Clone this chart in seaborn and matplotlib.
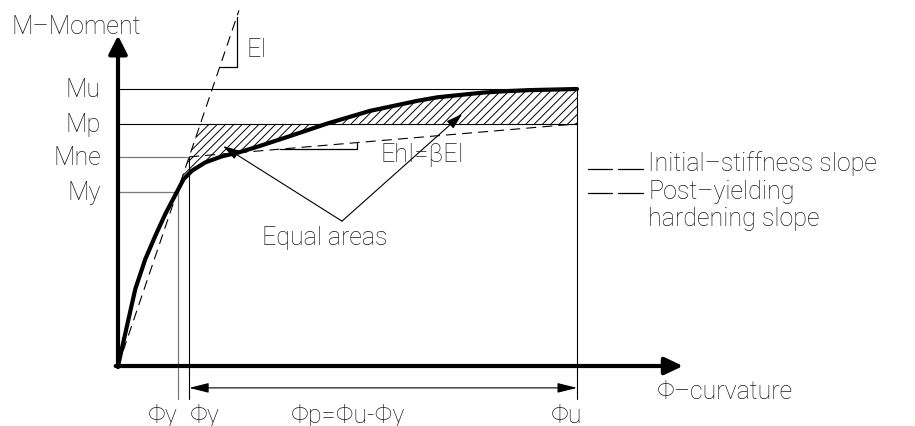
import numpy as np
import matplotlib
matplotlib.use("Agg")
import matplotlib.pyplot as plt
from matplotlib import font_manager
import seaborn as sns

# ---------------- data (schematic moment-curvature relation) ----------------
curve_phi = [0.0, 0.196, 0.377, 0.595, 0.813, 1.031, 1.285, 1.431, 1.612,
             1.902, 2.266, 2.630, 3.065, 3.747, 4.553, 5.490, 6.514, 6.955,
             7.952, 8.431, 8.976, 10.0]
curve_M = [0.0, 14.5, 27.8, 38.6, 47.0, 54.9, 62.9, 67.5, 70.5, 73.5, 75.7,
           77.1, 79.3, 83.0, 87.5, 92.1, 95.7, 97.0, 98.7, 99.2, 99.6, 100.0]

moment_names = ["Mu", "Mp", "Mne", "My"]
moment_values = [100.0, 87.4, 75.5, 62.8]
phi_names = ["Φy", "Φy", "Φp=Φu-Φy", "Φu"]
phi_y1, phi_y2, phi_u = 1.31, 1.55, 10.0
Mu, Mp, Mne, My = moment_values
EI = Mne / phi_y2                    # initial stiffness slope
legend_lines = ["Initial–stiffness slope", "Post–yielding", "hardening slope"]

# ---------------- figure ----------------
sns.set_theme(style="white")
light_ok = any(f.name == "Roboto" and f.weight in (300, "light")
               for f in font_manager.fontManager.ttflist)
if light_ok:
    plt.rcParams["font.family"] = ["Roboto", "DejaVu Sans"]
    TXT = dict(fontsize=18, color="#1a1a1a", fontweight="light")
else:
    plt.rcParams["font.family"] = ["DejaVu Sans"]
    TXT = dict(fontsize=16, color="#1a1a1a")
plt.rcParams["hatch.linewidth"] = 0.7

fig = plt.figure(figsize=(9.15, 4.27), dpi=100)
ax = fig.add_axes([0, 0, 1, 1])
sx, sy = 45.9, 2.77                  # px per unit
ax.set_xlim(-118 / sx, (915 - 118) / sx)
ax.set_ylim((367 - 427) / sy, 367 / sy)
ax.axis("off")

thin = dict(color="black", lw=0.8)
grey = dict(color="#7a7a7a", lw=0.9)

# hatched equal areas
cphi = np.array(curve_phi)
cM = np.array(curve_M)
Mg = np.linspace(50, Mp, 300)
left = Mg / EI
right = np.interp(Mg, cM, cphi)
ax.fill_betweenx(Mg, left, right, where=right >= left, facecolor="none",
                 edgecolor="black", hatch="////", linewidth=0)
pg = np.linspace(4.0, phi_u, 300)
mg = np.interp(pg, cphi, cM)
ax.fill_between(pg, Mp, mg, where=mg >= Mp, facecolor="none",
                edgecolor="black", hatch="////", linewidth=0)

# reference lines
y_bot = -11.9
sns.lineplot(x=[0, phi_u], y=[Mu, Mu], ax=ax, **thin)
sns.lineplot(x=[0, phi_u], y=[Mp, Mp], ax=ax, **thin)
sns.lineplot(x=[0, phi_y2], y=[Mne, Mne], ax=ax, **grey)
sns.lineplot(x=[0, phi_y1], y=[My, My], ax=ax, **grey)
ax.plot([phi_y1, phi_y1], [My, y_bot], **grey)
ax.plot([phi_y2, phi_y2], [Mne, y_bot], **thin)
ax.plot([phi_u, phi_u], [Mu, y_bot], **thin)

# dashed slopes
dash = (0, (9, 5.5))
ax.plot([0, 2.636], [0, 2.636 * EI], color="black", lw=0.8, ls=dash)
ax.plot([phi_y2, phi_u], [Mne, Mp], color="black", lw=0.8, ls=dash)

# slope triangles
mt = 108.0
pt = 2.59
ax.plot([mt / EI, pt, pt], [mt, mt, pt * EI], color="black", lw=0.9)
hard = lambda p: Mne + (Mp - Mne) * (p - phi_y2) / (phi_u - phi_y2)
mh = 78.3
ph_r = 5.207
ph_l = phi_y2 + (mh - Mne) / (Mp - Mne) * (phi_u - phi_y2)
ax.plot([ph_l, ph_r, ph_r], [mh, mh, hard(ph_r)], color="black", lw=0.9)

# main curve
sns.lineplot(x=curve_phi, y=curve_M, sort=False, estimator=None, ax=ax,
             color="black", lw=3.0)
ax.lines[-1].set_solid_joinstyle("round")

# axes arrows
ax.annotate("", xy=(0, 119.3), xytext=(0, -0.4),
            arrowprops=dict(arrowstyle="-|>,head_length=0.55,head_width=0.28",
                            mutation_scale=20, lw=3, color="black",
                            shrinkA=0, shrinkB=0))
ax.annotate("", xy=(12.31, 0), xytext=(-0.05, 0),
            arrowprops=dict(arrowstyle="-|>,head_length=0.55,head_width=0.26",
                            mutation_scale=20, lw=3, color="black",
                            shrinkA=0, shrinkB=0))

# dimension arrow
ax.annotate("", xy=(phi_u, -7.9), xytext=(phi_y2, -7.9),
            arrowprops=dict(arrowstyle="<|-|>,head_length=1.2,head_width=0.3",
                            mutation_scale=10, lw=0.8, color="black",
                            shrinkA=0, shrinkB=0))

# "Equal areas" pointers
apex = (4.88, 52.3)
for tip in [(2.29, 79.4), (7.50, 91.0)]:
    ax.annotate("", xy=tip, xytext=apex,
                arrowprops=dict(arrowstyle="-|>,head_length=1.0,head_width=0.3",
                                mutation_scale=10, lw=0.8, color="black",
                                shrinkA=0, shrinkB=0))

# texts
ax.text(-2.31, 122.7, "M–Moment", ha="left", va="center", **TXT)
ax.text(2.81, 114.4, "EI", ha="left", va="center", **TXT)
for name, val in zip(moment_names, moment_values):
    ax.text(-0.37, val, name, ha="right", va="center", **TXT)
ax.text(5.71, 76.5, "EhI=βEI", ha="left", va="center", **TXT)
ax.text(3.14, 46.6, "Equal areas", ha="left", va="center", **TXT)
phi_label_x = [0.98, 1.895, 5.01, 9.78]
for name, xv in zip(phi_names, phi_label_x):
    ax.text(xv, -17.6, name, ha="center", va="center", **TXT)
ax.text(11.74, -9.0, "Φ–curvature", ha="left", va="center", **TXT)

# legend-like annotation
for yd in [71.1, 62.5]:
    ax.plot([10.24, 10.76], [yd, yd], color="black", lw=0.9)
    ax.plot([10.90, 11.44], [yd, yd], color="black", lw=0.9)
for yl, lab in zip([73.3, 63.2, 53.4], legend_lines):
    ax.text(11.547, yl, lab, ha="left", va="center", **TXT)

fig.savefig("out.png", dpi=100)
